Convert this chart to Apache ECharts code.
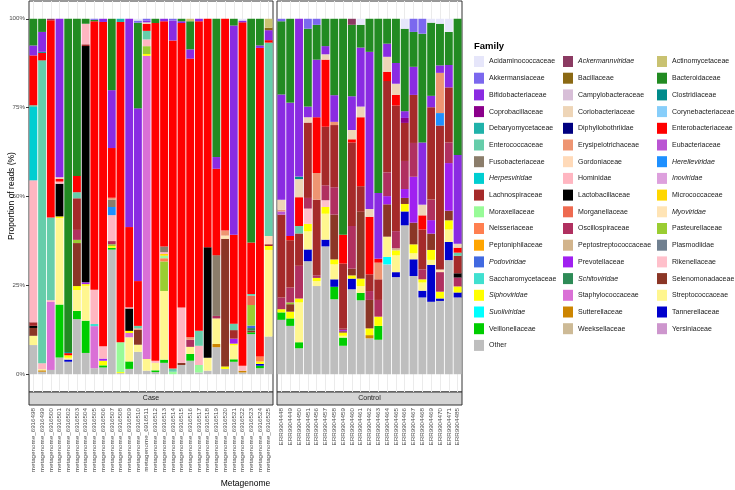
<!DOCTYPE html>
<html>
<head>
<meta charset="utf-8">
<title>Family composition per metagenome</title>
<script src="https://cdn.jsdelivr.net/npm/echarts@6/dist/echarts.min.js"></script>
<style>
  html, body { margin: 0; padding: 0; background: #fff; }
  #chart { width: 735px; height: 490px; }
</style>
</head>
<body>
<div id="chart"></div>
<script>
// families in legend (alphabetical) order, first one is stacked on top
var families = [
  'Acidaminococcaceae', 'Ackermannviridae', 'Actinomycetaceae', 'Akkermansiaceae', 'Bacillaceae',
  'Bacteroidaceae', 'Bifidobacteriaceae', 'Campylobacteraceae', 'Clostridiaceae', 'Coprobacillaceae',
  'Coriobacteriaceae', 'Corynebacteriaceae', 'Debaryomycetaceae', 'Diphyllobothriidae', 'Enterobacteriaceae',
  'Enterococcaceae', 'Erysipelotrichaceae', 'Eubacteriaceae', 'Fusobacteriaceae', 'Gordoniaceae',
  'Herelleviridae', 'Herpesviridae', 'Hominidae', 'Inoviridae', 'Lachnospiraceae',
  'Lactobacillaceae', 'Micrococcaceae', 'Moraxellaceae', 'Morganellaceae', 'Myoviridae',
  'Neisseriaceae', 'Oscillospiraceae', 'Pasteurellaceae', 'Peptoniphilaceae', 'Peptostreptococcaceae',
  'Plasmodiidae', 'Podoviridae', 'Prevotellaceae', 'Rikenellaceae', 'Saccharomycetaceae',
  'Schitoviridae', 'Selenomonadaceae', 'Siphoviridae', 'Staphylococcaceae', 'Streptococcaceae',
  'Suoliviridae', 'Sutterellaceae', 'Tannerellaceae', 'Veillonellaceae', 'Weeksellaceae',
  'Yersiniaceae', 'Other'
];

var familyColors = [
  '#E6E6FA', '#8B3A62', '#C9C271', '#7B68EE', '#8B6914',
  '#228B22', '#8A2BE2', '#D8BFD8', '#008B8B', '#8B008B',
  '#EED5B7', '#87CEFA', '#20B2AA', '#000080', '#FF0000',
  '#66CDAA', '#EE9572', '#BA55D3', '#8B7D6B', '#FFDAB9',
  '#1E90FF', '#00CED1', '#FFB6C1', '#DDA0DD', '#A52A2A',
  '#000000', '#FFD700', '#98FB98', '#EE6A50', '#FFE4B5',
  '#FF7F50', '#B03060', '#9ACD32', '#FFA500', '#D2B48C',
  '#708090', '#4169E1', '#A020F0', '#FFC0CB', '#40E0D0',
  '#2E8B57', '#8B3626', '#FFFF00', '#DA70D6', '#FFF68F',
  '#00FFFF', '#CD8500', '#0000CD', '#00CD00', '#CDBA96',
  '#CD96CD', '#BEBEBE'
];

var italicFamilies = ['Ackermannviridae', 'Herelleviridae', 'Herpesviridae', 'Inoviridae', 'Myoviridae',
  'Podoviridae', 'Schitoviridae', 'Siphoviridae', 'Suoliviridae'];

var caseSamples = [
  'metagenome_6916498', 'metagenome_6916499', 'metagenome_6916500', 'metagenome_6916501',
  'metagenome_6916502', 'metagenome_6916503', 'metagenome_6916504', 'metagenome_6916505',
  'metagenome_6916506', 'metagenome_6916507', 'metagenome_6916508', 'metagenome_6916509',
  'metagenome_6916510', 'metagenome_6916511', 'metagenome_6916512', 'metagenome_6916513',
  'metagenome_6916514', 'metagenome_6916515', 'metagenome_6916516', 'metagenome_6916517',
  'metagenome_6916518', 'metagenome_6916519', 'metagenome_6916520', 'metagenome_6916521',
  'metagenome_6916522', 'metagenome_6916523', 'metagenome_6916524', 'metagenome_6916525'
];

var controlSamples = [
  'ERR9904448', 'ERR9904449', 'ERR9904450', 'ERR9904451', 'ERR9904456', 'ERR9904457',
  'ERR9904458', 'ERR9904459', 'ERR9904460', 'ERR9904461', 'ERR9904462', 'ERR9904463',
  'ERR9904464', 'ERR9904465', 'ERR9904466', 'ERR9904467', 'ERR9904468', 'ERR9904469',
  'ERR9904470', 'ERR9904471', 'ERR9904485'
];

// reads per family (%), one list per sample
var caseReads = [
  [['Bacteroidaceae', 7.5], ['Bifidobacteriaceae', 2.8], ['Enterobacteriaceae', 14], ['Enterococcaceae', 0.5], ['Herpesviridae', 20.6], ['Hominidae', 39.9], ['Lachnospiraceae', 1], ['Lactobacillaceae', 0.6], ['Selenomonadaceae', 2.2], ['Streptococcaceae', 2.6], ['Other', 8.2]],
  [['Bacteroidaceae', 3.7], ['Bifidobacteriaceae', 5.6], ['Clostridiaceae', 0.3], ['Enterobacteriaceae', 2.1], ['Enterococcaceae', 85.2], ['Hominidae', 1.7], ['Streptococcaceae', 0.3], ['Sutterellaceae', 0.4], ['Other', 0.7]],
  [['Ackermannviridae', 0.4], ['Enterobacteriaceae', 55.4], ['Enterococcaceae', 23.2], ['Hominidae', 0.5], ['Staphylococcaceae', 19.1], ['Other', 1.2]],
  [['Bifidobacteriaceae', 44.6], ['Coriobacteriaceae', 0.4], ['Enterobacteriaceae', 0.8], ['Hominidae', 0.6], ['Lactobacillaceae', 9.2], ['Siphoviridae', 0.5], ['Streptococcaceae', 24.3], ['Veillonellaceae', 14.9], ['Other', 4.7]],
  [['Bacteroidaceae', 93.2], ['Clostridiaceae', 0.3], ['Enterobacteriaceae', 0.6], ['Siphoviridae', 0.7], ['Streptococcaceae', 0.5], ['Tannerellaceae', 0.6], ['Other', 3.5]],
  [['Bacteroidaceae', 44.2], ['Enterobacteriaceae', 4.6], ['Enterococcaceae', 1.7], ['Lachnospiraceae', 8.9], ['Oscillospiraceae', 2.8], ['Pasteurellaceae', 0.9], ['Selenomonadaceae', 12.1], ['Siphoviridae', 1.1], ['Streptococcaceae', 5.9], ['Veillonellaceae', 2.3], ['Other', 15.5]],
  [['Bacteroidaceae', 1.4], ['Hominidae', 5.8], ['Lachnospiraceae', 0.5], ['Lactobacillaceae', 66.6], ['Prevotellaceae', 0.5], ['Siphoviridae', 0.5], ['Streptococcaceae', 9.8], ['Veillonellaceae', 9.1], ['Other', 6]],
  [['Akkermansiaceae', 0.3], ['Bacteroidaceae', 0.4], ['Enterobacteriaceae', 75.4], ['Hominidae', 9.6], ['Saccharomycetaceae', 0.6], ['Staphylococcaceae', 11.8], ['Other', 1.7]],
  [['Bifidobacteriaceae', 0.9], ['Enterobacteriaceae', 91.3], ['Hominidae', 3.5], ['Prevotellaceae', 0.6], ['Siphoviridae', 1.3], ['Veillonellaceae', 0.6], ['Other', 1.9]],
  [['Bacteroidaceae', 20.1], ['Bifidobacteriaceae', 16.3], ['Enterobacteriaceae', 14], ['Erysipelotrichaceae', 0.5], ['Fusobacteriaceae', 2.1], ['Herelleviridae', 2.3], ['Hominidae', 7.3], ['Oscillospiraceae', 0.9], ['Pasteurellaceae', 0.5], ['Siphoviridae', 0.5], ['Veillonellaceae', 0.5], ['Other', 35.1]],
  [['Debaryomycetaceae', 0.9], ['Enterobacteriaceae', 90.1], ['Moraxellaceae', 8.4], ['Siphoviridae', 0.3], ['Other', 0.3]],
  [['Bifidobacteriaceae', 58.6], ['Enterobacteriaceae', 22.6], ['Hominidae', 0.3], ['Lactobacillaceae', 6.3], ['Siphoviridae', 0.6], ['Staphylococcaceae', 1.2], ['Streptococcaceae', 6.8], ['Veillonellaceae', 2.1], ['Other', 1.5]],
  [['Acidaminococcaceae', 0.5], ['Akkermansiaceae', 0.6], ['Bacteroidaceae', 24.1], ['Bifidobacteriaceae', 48.6], ['Enterobacteriaceae', 12.6], ['Enterococcaceae', 0.7], ['Erysipelotrichaceae', 0.4], ['Selenomonadaceae', 4.2], ['Streptococcaceae', 2], ['Other', 6.3]],
  [['Akkermansiaceae', 0.5], ['Bifidobacteriaceae', 0.5], ['Coriobacteriaceae', 0.4], ['Enterobacteriaceae', 2], ['Enterococcaceae', 2.4], ['Hominidae', 1.9], ['Pasteurellaceae', 2.2], ['Siphoviridae', 0.5], ['Staphylococcaceae', 85.2], ['Streptococcaceae', 3.3], ['Other', 1]],
  [['Bacteroidaceae', 1.2], ['Enterobacteriaceae', 95], ['Hominidae', 0.6], ['Streptococcaceae', 2.1], ['Veillonellaceae', 0.5], ['Other', 0.6]],
  [['Bifidobacteriaceae', 0.7], ['Enterobacteriaceae', 63.3], ['Fusobacteriaceae', 1.6], ['Hominidae', 0.5], ['Micrococcaceae', 0.5], ['Moraxellaceae', 0.7], ['Neisseriaceae', 0.9], ['Pasteurellaceae', 8.3], ['Streptococcaceae', 19.3], ['Veillonellaceae', 0.9], ['Other', 3.2]],
  [['Akkermansiaceae', 0.5], ['Bifidobacteriaceae', 5.6], ['Enterobacteriaceae', 92.3], ['Enterococcaceae', 0.9], ['Moraxellaceae', 0.7]],
  [['Bacteroidaceae', 0.7], ['Bifidobacteriaceae', 0.5], ['Enterobacteriaceae', 80], ['Hominidae', 15.6], ['Selenomonadaceae', 0.6], ['Other', 2.6]],
  [['Actinomycetaceae', 0.7], ['Bacteroidaceae', 7.9], ['Bifidobacteriaceae', 2.6], ['Enterobacteriaceae', 78.4], ['Erysipelotrichaceae', 0.7], ['Oscillospiraceae', 2], ['Streptococcaceae', 2], ['Veillonellaceae', 1.9], ['Other', 3.8]],
  [['Bifidobacteriaceae', 0.7], ['Enterobacteriaceae', 87.1], ['Enterococcaceae', 4.2], ['Hominidae', 5.4], ['Moraxellaceae', 2.1], ['Other', 0.5]],
  [['Enterobacteriaceae', 64.2], ['Lactobacillaceae', 31.1], ['Streptococcaceae', 3.6], ['Other', 1]],
  [['Bacteroidaceae', 38.9], ['Bifidobacteriaceae', 3.3], ['Enterobacteriaceae', 24.3], ['Fusobacteriaceae', 17.1], ['Oscillospiraceae', 0.7], ['Streptococcaceae', 7.2], ['Sutterellaceae', 0.9], ['Other', 7.6]],
  [['Enterobacteriaceae', 59.6], ['Erysipelotrichaceae', 1.4], ['Myoviridae', 0.9], ['Selenomonadaceae', 35.9], ['Siphoviridae', 0.7], ['Other', 1.5]],
  [['Bacteroidaceae', 1.9], ['Bifidobacteriaceae', 58.8], ['Enterobacteriaceae', 25], ['Enterococcaceae', 1.8], ['Lachnospiraceae', 2.4], ['Prevotellaceae', 1.4], ['Siphoviridae', 0.5], ['Streptococcaceae', 3.9], ['Veillonellaceae', 0.7], ['Other', 3.5]],
  [['Acidaminococcaceae', 0.5], ['Bifidobacteriaceae', 0.5], ['Enterobacteriaceae', 96.6], ['Hominidae', 1.4], ['Sutterellaceae', 0.5], ['Other', 0.5]],
  [['Bacteroidaceae', 63], ['Enterobacteriaceae', 14.5], ['Enterococcaceae', 0.5], ['Morganellaceae', 2.6], ['Pasteurellaceae', 5.8], ['Podoviridae', 0.7], ['Schitoviridae', 0.7], ['Selenomonadaceae', 0.5], ['Veillonellaceae', 0.5], ['Other', 11.3]],
  [['Bacteroidaceae', 7.5], ['Bifidobacteriaceae', 0.7], ['Enterobacteriaceae', 86.8], ['Neisseriaceae', 1.4], ['Siphoviridae', 0.7], ['Tannerellaceae', 0.5], ['Veillonellaceae', 0.7], ['Other', 1.7]],
  [['Actinomycetaceae', 2.5], ['Bacillaceae', 0.7], ['Bifidobacteriaceae', 2.8], ['Enterobacteriaceae', 0.7], ['Enterococcaceae', 54.3], ['Gordoniaceae', 2.3], ['Lachnospiraceae', 0.5], ['Siphoviridae', 1.1], ['Streptococcaceae', 24.3], ['Other', 10.6]]
];

var controlReads = [
  [['Akkermansiaceae', 0.7], ['Bacteroidaceae', 20.6], ['Bifidobacteriaceae', 29.6], ['Coriobacteriaceae', 2.8], ['Erysipelotrichaceae', 0.5], ['Eubacteriaceae', 0.9], ['Lachnospiraceae', 23.3], ['Oscillospiraceae', 3.3], ['Siphoviridae', 0.9], ['Veillonellaceae', 2.1], ['Other', 15.3]],
  [['Bacteroidaceae', 23.6], ['Bifidobacteriaceae', 37.5], ['Enterobacteriaceae', 1.2], ['Lachnospiraceae', 13.3], ['Oscillospiraceae', 4.2], ['Pasteurellaceae', 0.5], ['Selenomonadaceae', 2.1], ['Siphoviridae', 1.9], ['Veillonellaceae', 2.1], ['Other', 13.6]],
  [['Bifidobacteriaceae', 44.4], ['Clostridiaceae', 0.7], ['Coriobacteriaceae', 5.1], ['Enterobacteriaceae', 8.1], ['Enterococcaceae', 2.1], ['Lachnospiraceae', 9.1], ['Oscillospiraceae', 9.2], ['Siphoviridae', 1.1], ['Streptococcaceae', 11.2], ['Veillonellaceae', 1.7], ['Other', 7.3]],
  [['Akkermansiaceae', 2.8], ['Bacteroidaceae', 21.9], ['Bifidobacteriaceae', 3], ['Coriobacteriaceae', 1.5], ['Lachnospiraceae', 21.2], ['Oscillospiraceae', 3], ['Rikenellaceae', 4.3], ['Siphoviridae', 2.1], ['Streptococcaceae', 5.1], ['Tannerellaceae', 3.3], ['Other', 31.8]],
  [['Akkermansiaceae', 1.7], ['Bacteroidaceae', 9.8], ['Bifidobacteriaceae', 16.2], ['Enterobacteriaceae', 15.7], ['Erysipelotrichaceae', 7.5], ['Lachnospiraceae', 21.3], ['Oscillospiraceae', 0.7], ['Siphoviridae', 0.9], ['Streptococcaceae', 1.4], ['Other', 24.8]],
  [['Bacteroidaceae', 7.7], ['Bifidobacteriaceae', 2.3], ['Coriobacteriaceae', 1.5], ['Enterobacteriaceae', 18.9], ['Lachnospiraceae', 16.5], ['Oscillospiraceae', 4.2], ['Rikenellaceae', 1.9], ['Siphoviridae', 1.9], ['Streptococcaceae', 7.3], ['Tannerellaceae', 1.9], ['Other', 36]],
  [['Bacteroidaceae', 21.5], ['Bifidobacteriaceae', 7.5], ['Erysipelotrichaceae', 0.9], ['Lachnospiraceae', 17.5], ['Oscillospiraceae', 7.7], ['Selenomonadaceae', 12.6], ['Siphoviridae', 1.4], ['Streptococcaceae', 4.2], ['Tannerellaceae', 2.1], ['Veillonellaceae', 3.5], ['Other', 21.1]],
  [['Bacteroidaceae', 60.7], ['Enterobacteriaceae', 8.1], ['Lachnospiraceae', 18.3], ['Oscillospiraceae', 0.4], ['Prevotellaceae', 0.3], ['Selenomonadaceae', 0.4], ['Siphoviridae', 0.9], ['Streptococcaceae', 0.5], ['Veillonellaceae', 2.3], ['Other', 8]],
  [['Ackermannviridae', 1.7], ['Bacteroidaceae', 20.1], ['Bifidobacteriaceae', 9.5], ['Coriobacteriaceae', 2.6], ['Enterobacteriaceae', 0.9], ['Lachnospiraceae', 23.5], ['Oscillospiraceae', 12], ['Selenomonadaceae', 1.9], ['Siphoviridae', 0.9], ['Tannerellaceae', 3], ['Other', 23.9]],
  [['Acidaminococcaceae', 1.7], ['Bacteroidaceae', 6.4], ['Bifidobacteriaceae', 16.6], ['Coriobacteriaceae', 3], ['Enterobacteriaceae', 19.4], ['Lachnospiraceae', 7.2], ['Selenomonadaceae', 18.8], ['Siphoviridae', 2.1], ['Streptococcaceae', 1.9], ['Veillonellaceae', 2.1], ['Other', 20.8]],
  [['Bacteroidaceae', 9.3], ['Bifidobacteriaceae', 44.2], ['Coriobacteriaceae', 2.2], ['Enterobacteriaceae', 16.2], ['Lachnospiraceae', 4.7], ['Oscillospiraceae', 2.5], ['Selenomonadaceae', 8], ['Siphoviridae', 1.9], ['Sutterellaceae', 0.9], ['Other', 10.1]],
  [['Bacteroidaceae', 49], ['Bifidobacteriaceae', 18.5], ['Enterobacteriaceae', 1.1], ['Erysipelotrichaceae', 4.7], ['Lachnospiraceae', 5.8], ['Oscillospiraceae', 4.7], ['Siphoviridae', 2.6], ['Veillonellaceae', 3.9], ['Other', 9.7]],
  [['Bacteroidaceae', 7], ['Bifidobacteriaceae', 3.7], ['Coriobacteriaceae', 4.2], ['Enterobacteriaceae', 2.6], ['Lachnospiraceae', 25.7], ['Oscillospiraceae', 6.7], ['Prevotellaceae', 2.3], ['Selenomonadaceae', 9.1], ['Streptococcaceae', 5.7], ['Suoliviridae', 2.1], ['Other', 30.9]],
  [['Bacteroidaceae', 12.4], ['Bifidobacteriaceae', 5.8], ['Coriobacteriaceae', 3.1], ['Enterobacteriaceae', 3], ['Lachnospiraceae', 35.2], ['Oscillospiraceae', 4.8], ['Peptostreptococcaceae', 0.6], ['Siphoviridae', 1.4], ['Streptococcaceae', 4.7], ['Tannerellaceae', 1.4], ['Other', 27.2]],
  [['Acidaminococcaceae', 2.8], ['Bacteroidaceae', 23.2], ['Bifidobacteriaceae', 1.9], ['Coprobacillaceae', 1.4], ['Lachnospiraceae', 10.7], ['Oscillospiraceae', 7.9], ['Prevotellaceae', 2.5], ['Selenomonadaceae', 1.7], ['Siphoviridae', 2.1], ['Tannerellaceae', 3.9], ['Other', 41.9]],
  [['Akkermansiaceae', 3.7], ['Bacteroidaceae', 9.8], ['Bifidobacteriaceae', 7.9], ['Lachnospiraceae', 13.5], ['Oscillospiraceae', 9.5], ['Prevotellaceae', 12.9], ['Selenomonadaceae', 6.1], ['Siphoviridae', 2.5], ['Streptococcaceae', 1.7], ['Tannerellaceae', 4.7], ['Other', 27.6]],
  [['Akkermansiaceae', 4.2], ['Bacteroidaceae', 30.6], ['Bifidobacteriaceae', 17.5], ['Coriobacteriaceae', 3], ['Enterobacteriaceae', 4], ['Lachnospiraceae', 11.2], ['Oscillospiraceae', 2.8], ['Siphoviridae', 0.9], ['Streptococcaceae', 2.3], ['Tannerellaceae', 1.9], ['Other', 21.6]],
  [['Acidaminococcaceae', 1.1], ['Bacteroidaceae', 20.6], ['Bifidobacteriaceae', 3.2], ['Lachnospiraceae', 26], ['Oscillospiraceae', 5.8], ['Prevotellaceae', 3.8], ['Selenomonadaceae', 4.6], ['Siphoviridae', 2.8], ['Streptococcaceae', 1.4], ['Tannerellaceae', 10.4], ['Other', 20.4]],
  [['Acidaminococcaceae', 1.4], ['Bacteroidaceae', 11.7], ['Bifidobacteriaceae', 2.1], ['Erysipelotrichaceae', 11.3], ['Herelleviridae', 3.5], ['Lachnospiraceae', 40.5], ['Myoviridae', 0.7], ['Oscillospiraceae', 5.5], ['Siphoviridae', 1.9], ['Tannerellaceae', 0.7], ['Other', 20.6]],
  [['Acidaminococcaceae', 3.7], ['Bacteroidaceae', 9.3], ['Bifidobacteriaceae', 6.3], ['Lachnospiraceae', 15.5], ['Oscillospiraceae', 5.8], ['Prevotellaceae', 13.4], ['Selenomonadaceae', 2.7], ['Siphoviridae', 2.6], ['Streptococcaceae', 3.5], ['Tannerellaceae', 5.1], ['Other', 32.1]],
  [['Bacteroidaceae', 38.3], ['Bifidobacteriaceae', 25], ['Coriobacteriaceae', 1.1], ['Enterobacteriaceae', 1.4], ['Enterococcaceae', 0.9], ['Lachnospiraceae', 4.9], ['Lactobacillaceae', 1.2], ['Oscillospiraceae', 2.5], ['Siphoviridae', 1.7], ['Tannerellaceae', 1.4], ['Other', 21.6]]
];

var fontName = 'Liberation Sans, Arial, sans-serif';

// proportion of one family in one sample (like position = "fill")
function share(sample, family) {
  var total = 0, v = 0;
  sample.forEach(function (p) {
    total += p[1];
    if (p[0] === family) v = p[1];
  });
  return v / total * 100;
}

function panelSeries(reads, idx, stackName) {
  var out = [];
  // ECharts stacks the first series at the bottom, so go from Other upwards
  for (var i = families.length - 1; i >= 0; i--) {
    var fam = families[i];
    out.push({
      name: fam,
      type: 'bar',
      stack: stackName,
      xAxisIndex: idx,
      yAxisIndex: idx,
      barCategoryGap: '10%',
      itemStyle: { color: familyColors[i] },
      emphasis: { disabled: true },
      data: reads.map(function (s) { return share(s, fam); })
    });
  }
  return out;
}

function xAxisFor(idx, names) {
  return {
    type: 'category',
    gridIndex: idx,
    data: names,
    axisLine: { show: false },
    axisTick: { show: false },
    axisLabel: { rotate: 90, interval: 0, fontSize: 6.25, color: '#4D4D4D', margin: 16, fontFamily: fontName },
    splitLine: { show: true, interval: 0, alignWithLabel: true, lineStyle: { color: '#EBEBEB', width: 1 } }
  };
}

var yTicks = [0, 25, 50, 75, 100];

var legendLefts = [474, 563, 657];
var legends = legendLefts.map(function (left, c) {
  return {
    orient: 'vertical',
    left: left,
    top: 56,
    padding: 0,
    icon: 'rect',
    itemWidth: 10,
    itemHeight: 11,
    itemGap: 5.7,
    selectedMode: false,
    data: families.filter(function (f, i) { return i % 3 === c; }),
    formatter: function (name) {
      return italicFamilies.indexOf(name) >= 0 ? '{i|' + name + '}' : name;
    },
    textStyle: {
      fontSize: 7, color: '#1A1A1A', lineHeight: 11, fontFamily: fontName,
      rich: { i: { fontStyle: 'italic', fontSize: 7, lineHeight: 11, color: '#1A1A1A', fontFamily: fontName } }
    }
  };
});

var chartDom = document.getElementById('chart');
var myChart = echarts.init(chartDom, null, { renderer: 'canvas' });

var option = {
  animation: false,
  backgroundColor: '#ffffff',
  textStyle: { fontFamily: fontName },
  grid: [
    { left: 29, top: 1, width: 244, height: 391, show: true, borderColor: '#333333', borderWidth: 1, backgroundColor: '#ffffff' },
    { left: 277, top: 1, width: 185, height: 391, show: true, borderColor: '#333333', borderWidth: 1, backgroundColor: '#ffffff' }
  ],
  xAxis: [xAxisFor(0, caseSamples), xAxisFor(1, controlSamples)],
  yAxis: [
    {
      type: 'value', gridIndex: 0, min: -5, max: 105,
      axisLine: { show: false },
      splitLine: { show: false },
      axisTick: { show: true, length: 3, customValues: yTicks, lineStyle: { color: '#333333' } },
      axisLabel: { customValues: yTicks, formatter: '{value}%', fontSize: 6.2, color: '#4D4D4D', margin: 4 }
    },
    {
      type: 'value', gridIndex: 1, min: -5, max: 105,
      axisLine: { show: false }, splitLine: { show: false },
      axisTick: { show: false }, axisLabel: { show: false }
    }
  ],
  legend: legends,
  series: panelSeries(caseReads, 0, 'case').concat(panelSeries(controlReads, 1, 'control')),
  graphic: [
    { type: 'rect', shape: { x: 29, y: 392, width: 244, height: 13 }, style: { fill: '#D4D4D4', stroke: '#333333', lineWidth: 1 } },
    { type: 'text', x: 151, y: 398.5, style: { text: 'Case', fontSize: 7, fill: '#1A1A1A', align: 'center', verticalAlign: 'middle', fontFamily: fontName } },
    { type: 'rect', shape: { x: 277, y: 392, width: 185, height: 13 }, style: { fill: '#D4D4D4', stroke: '#333333', lineWidth: 1 } },
    { type: 'text', x: 369.5, y: 398.5, style: { text: 'Control', fontSize: 7, fill: '#1A1A1A', align: 'center', verticalAlign: 'middle', fontFamily: fontName } },
    { type: 'text', x: 245.5, y: 484, style: { text: 'Metagenome', fontSize: 8.5, fill: '#000000', align: 'center', verticalAlign: 'middle', fontFamily: fontName } },
    { type: 'text', x: 12, y: 196, rotation: Math.PI / 2, style: { text: 'Proportion of reads (%)', fontSize: 8.5, fill: '#000000', align: 'center', verticalAlign: 'middle', fontFamily: fontName } },
    { type: 'text', x: 474, y: 46, style: { text: 'Family', fontSize: 9.5, fontWeight: 'bold', fill: '#000000', align: 'left', verticalAlign: 'middle', fontFamily: fontName } }
  ]
};

option && myChart.setOption(option);
</script>
</body>
</html>
